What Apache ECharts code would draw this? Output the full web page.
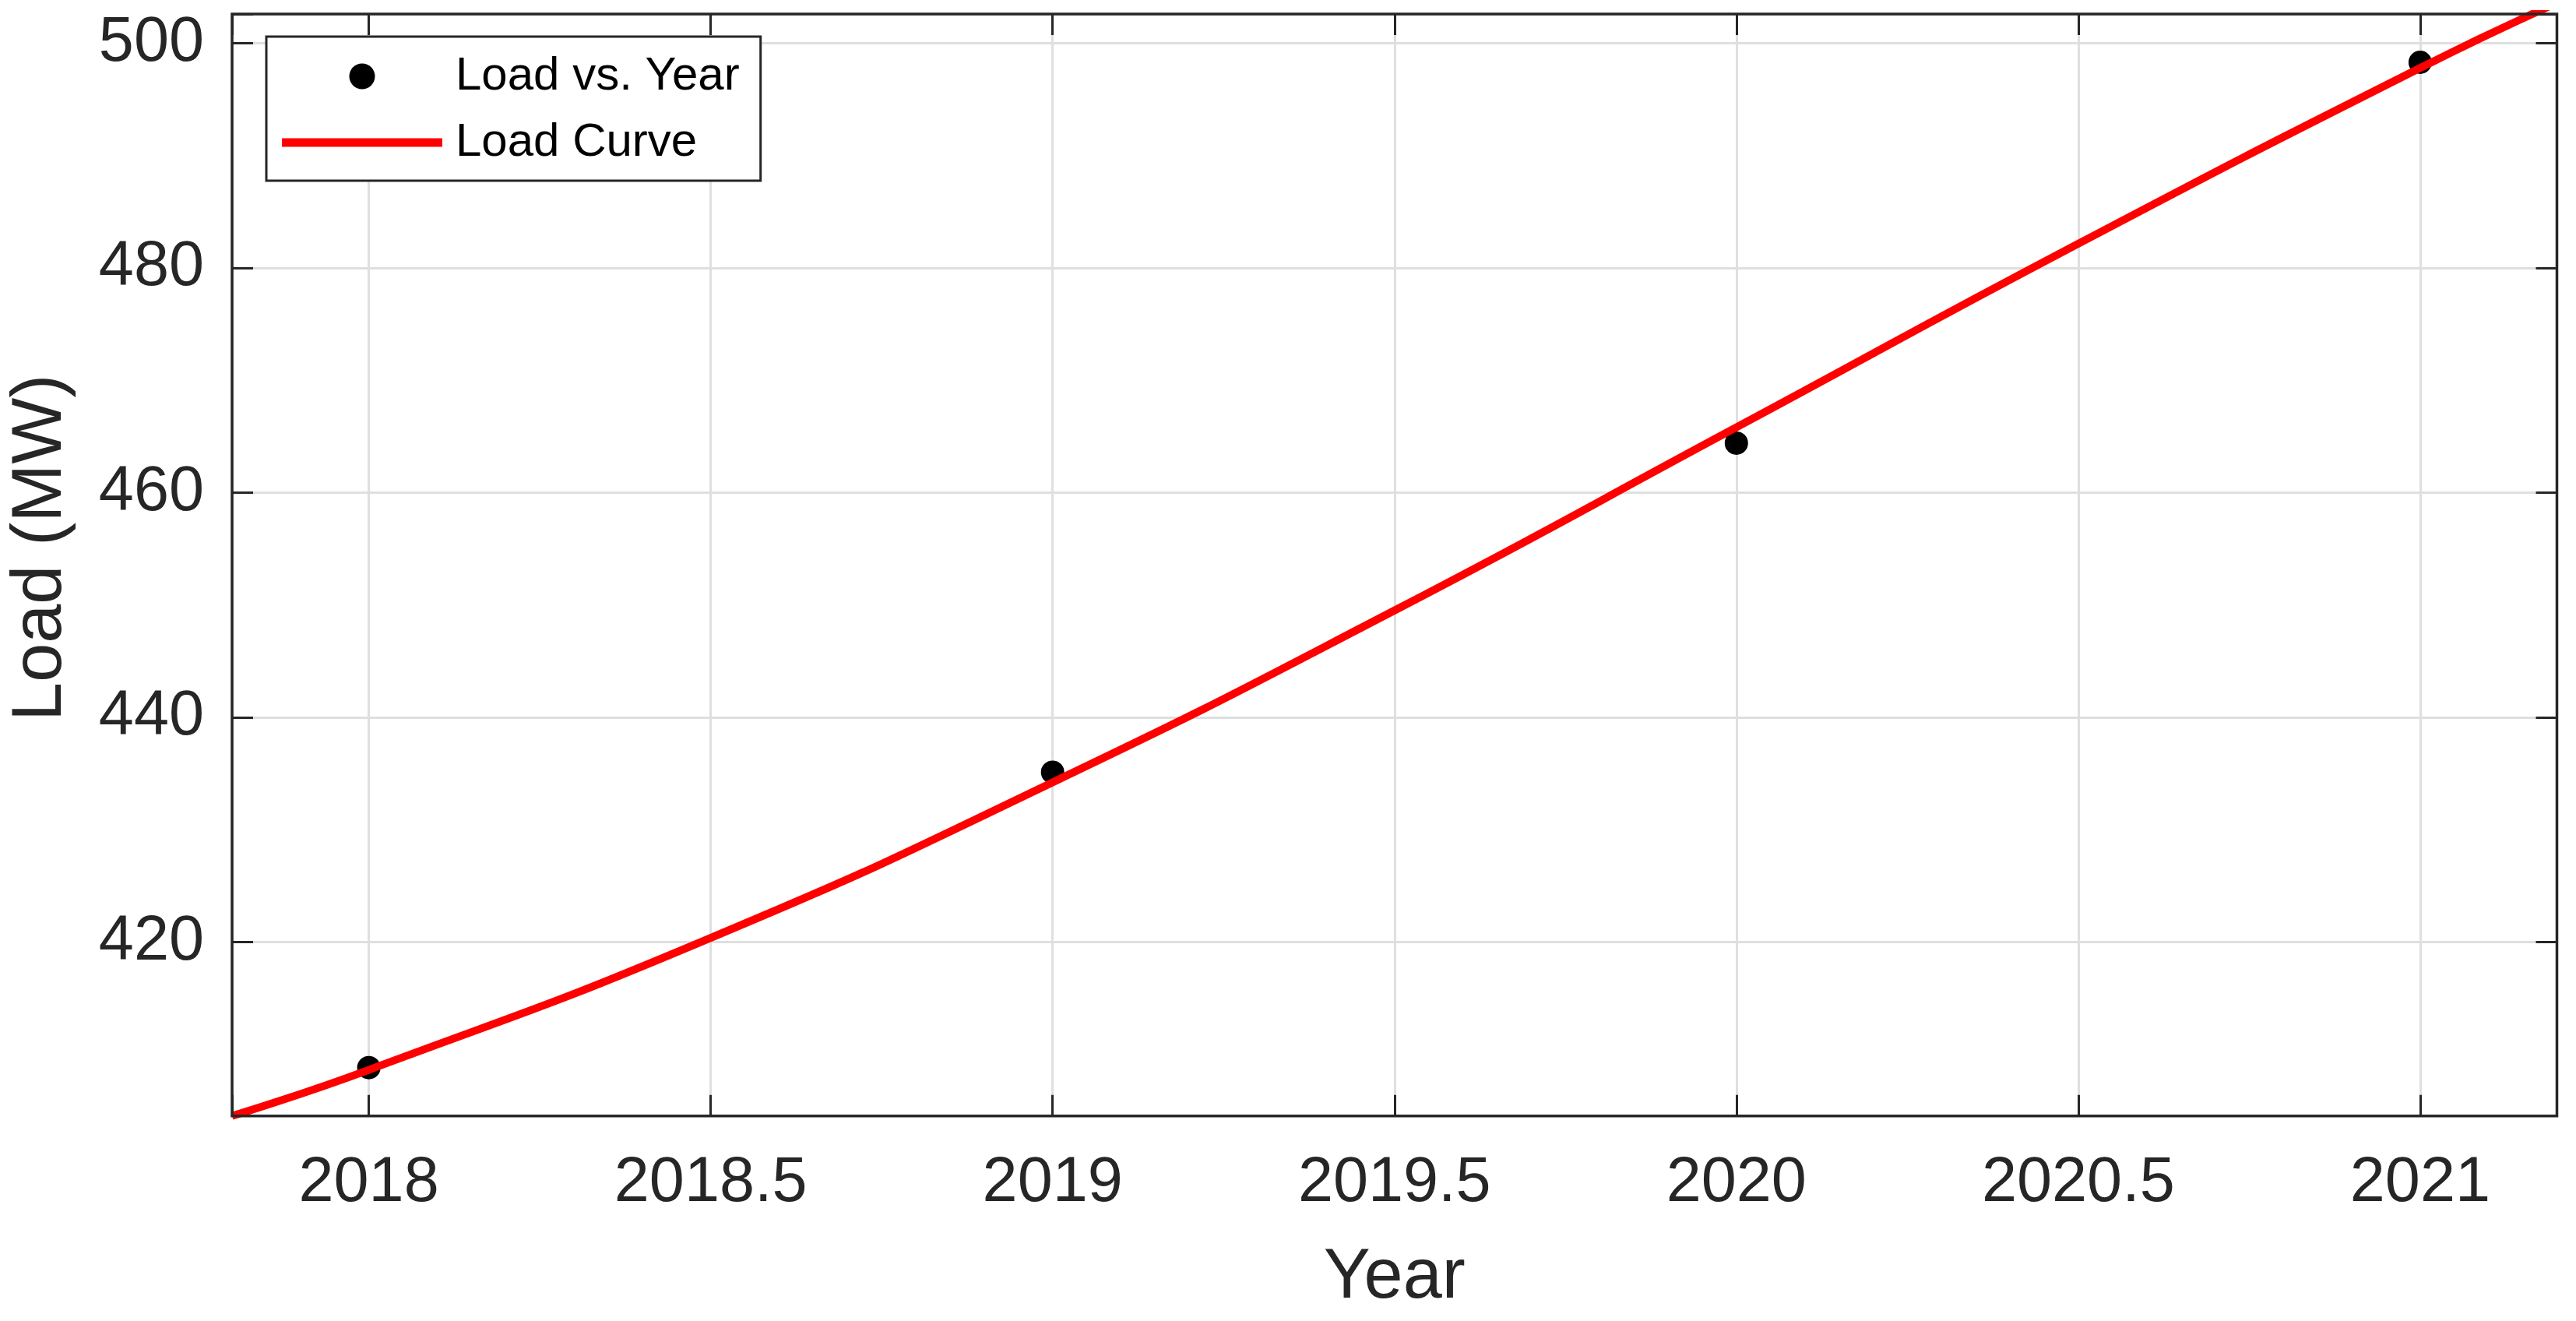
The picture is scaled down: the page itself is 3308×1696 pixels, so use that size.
<!DOCTYPE html>
<html>
<head>
<meta charset="utf-8">
<script src="https://cdn.jsdelivr.net/npm/echarts@6/dist/echarts.min.js"></script>
<style>
html,body{margin:0;padding:0;background:#fff;}
#chart{width:3308px;height:1696px;}
</style>
</head>
<body>
<div id="chart"></div>
<script>
// ---- data ----
const years = [2018, 2019, 2020, 2021];
const loadValues = [408.8, 435.1, 464.4, 498.3];
const curveYears = [2017.8, 2018, 2018.5, 2019, 2019.5, 2020, 2020.5, 2021, 2021.2];
const curveValues = [404.5, 408.6, 420.35, 434.2, 449.5, 465.8, 482.15, 497.8, 503.6];
const seriesNames = ['Load vs. Year', 'Load Curve'];
const xAxisName = 'Year';
const yAxisName = 'Load (MW)';
const xRange = [2017.8, 2021.2];
const yRange = [404.5, 502.6];

const FONT = 'Liberation Sans, Arial, Helvetica, sans-serif';
const AX = '#262626';
const GRIDC = '#dfdfdf';

const scatterData = years.map((y, i) => [y, loadValues[i]]);
const curveData = curveYears.map((y, i) => [y, curveValues[i]]);

function xFmt(v) {
  const h = v * 2;
  if (Math.abs(h - Math.round(h)) > 1e-6) return '';
  return String(Math.round(h) / 2);
}
function yFmt(v) {
  const q = v / 20;
  if (Math.abs(q - Math.round(q)) > 1e-6) return '';
  return String(Math.round(v));
}

const tickStyle = { show: true, inside: true, length: 27, lineStyle: { color: AX, width: 3 } };

const chart = echarts.init(document.getElementById('chart'), null, { renderer: 'canvas' });
chart.setOption({
  animation: false,
  backgroundColor: '#ffffff',
  grid: {
    left: 296.5, right: 24.5, top: 18, bottom: 263.3,
    show: true, borderColor: AX, borderWidth: 3.5, backgroundColor: 'transparent',
    z: 10
  },
  legend: {
    data: [
      { name: seriesNames[0], icon: 'circle', itemStyle: { color: '#000000', borderWidth: 0, opacity: 1 } },
      { name: seriesNames[1], icon: 'path://M0,0H206V11H0Z', itemStyle: { color: '#ff0000', borderWidth: 0, opacity: 1 } }
    ],
    orient: 'vertical',
    left: 342, top: 47,
    padding: [21, 27, 19, 20],
    itemGap: 25,
    itemWidth: 206,
    itemHeight: 33,
    selectedMode: false,
    backgroundColor: '#ffffff',
    borderColor: AX,
    borderWidth: 3,
    z: 12,
    textStyle: { fontFamily: FONT, fontSize: 60, lineHeight: 60, color: '#000000', padding: [0, 0, 0, 12] }
  },
  xAxis: [
    {
      type: 'value', min: xRange[0], max: xRange[1], position: 'bottom',
      name: xAxisName, nameLocation: 'middle', nameGap: 163,
      nameTextStyle: { fontFamily: FONT, fontSize: 90, lineHeight: 90, color: AX },
      axisLine: { show: false },
      axisTick: tickStyle,
      axisLabel: { formatter: xFmt, margin: 46, fontFamily: FONT, fontSize: 81, lineHeight: 81, color: AX },
      splitLine: { show: true, lineStyle: { color: GRIDC, width: 3 } }
    },
    {
      type: 'value', min: xRange[0], max: xRange[1], position: 'top',
      axisLine: { show: false },
      axisTick: tickStyle,
      axisLabel: { show: false },
      splitLine: { show: false }
    }
  ],
  yAxis: [
    {
      type: 'value', min: yRange[0], max: yRange[1], position: 'left',
      name: yAxisName, nameLocation: 'middle', nameGap: 200,
      nameTextStyle: { fontFamily: FONT, fontSize: 90, lineHeight: 90, color: AX, padding: [0, 0, 0, 44] },
      axisLine: { show: false },
      axisTick: tickStyle,
      axisLabel: { formatter: yFmt, margin: 36, fontFamily: FONT, fontSize: 81, lineHeight: 81, color: AX },
      splitLine: { show: true, lineStyle: { color: GRIDC, width: 3 } }
    },
    {
      type: 'value', min: yRange[0], max: yRange[1], position: 'right',
      axisLine: { show: false },
      axisTick: tickStyle,
      axisLabel: { show: false },
      splitLine: { show: false }
    }
  ],
  series: [
    {
      name: seriesNames[0], type: 'scatter', data: scatterData,
      symbol: 'circle', symbolSize: 30,
      itemStyle: { color: '#000000', opacity: 1 },
      z: 3, silent: true
    },
    {
      name: seriesNames[1], type: 'line', data: curveData,
      smooth: true, showSymbol: false, symbol: 'none', clip: true,
      lineStyle: { color: '#ff0000', width: 10, opacity: 1 },
      itemStyle: { color: '#ff0000' },
      z: 4, silent: true
    }
  ]
});
</script>
</body>
</html>
